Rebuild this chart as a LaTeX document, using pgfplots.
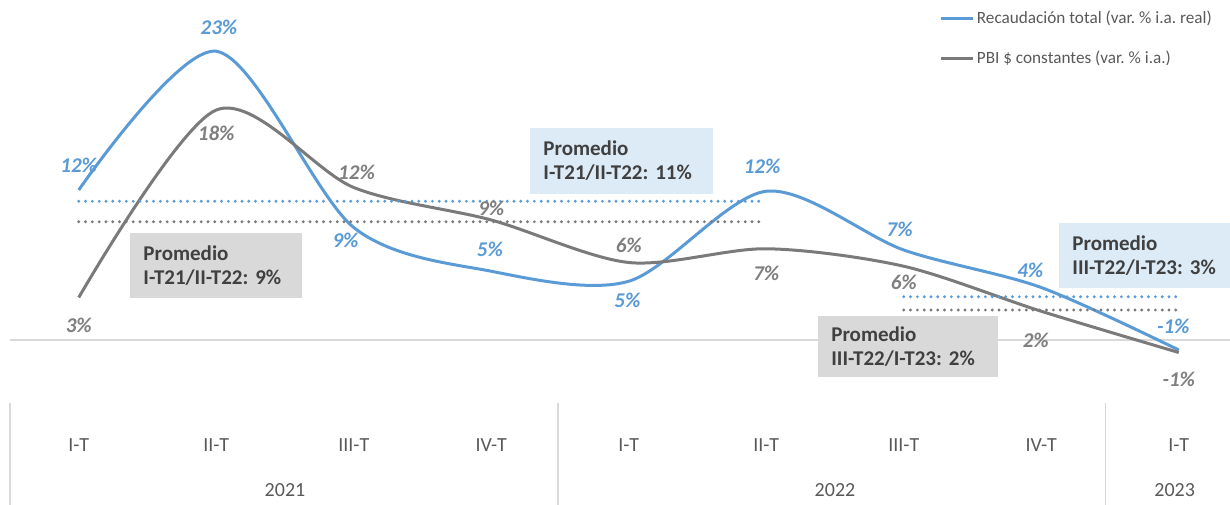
\documentclass[border=0pt]{standalone}
\usepackage{pgfplots}
\pgfplotsset{compat=1.18}
\usepackage{fontspec}
\setmainfont{Carlito}
\frenchspacing
\definecolor{blueC}{RGB}{91,155,213}
\definecolor{grayC}{RGB}{122,122,122}
\definecolor{grayT}{RGB}{127,127,127}
\definecolor{boxB}{RGB}{221,235,247}
\definecolor{boxG}{RGB}{217,217,217}
\definecolor{boxT}{RGB}{64,64,64}
\definecolor{tickC}{RGB}{89,89,89}
\definecolor{lineC}{RGB}{217,217,217}
\begin{document}
\begin{tikzpicture}
\useasboundingbox (-5pt,-50.75pt) rectangle (610pt,201.25pt);
\begin{axis}[
  at={(0pt,0pt)}, anchor=south west,
  scale only axis, width=610pt, height=200pt,
  xmin=-0.5, xmax=8.3727, ymin=-5, ymax=27,
  clip=false,
  axis line style={draw=none},
  major tick length=0pt,
  ytick=\empty,
  xtick={0,1,2,3,4,5,6,7,8},
  xticklabels={I-T,II-T,III-T,IV-T,I-T,II-T,III-T,IV-T,I-T},
  xticklabel style={anchor=center, yshift=-21.25pt, font=\fontsize{10}{12}\selectfont, text=tickC},
  legend style={at={(axis cs:6.26,26.5)}, anchor=north west, draw=none, fill=none,
     font=\fontsize{8.6}{10}\selectfont, text=tickC, row sep=10pt, inner sep=0pt,
     nodes={inner sep=1pt}},
  legend cell align=left,
  legend image code/.code={\draw[#1] (0pt,0pt) -- (16pt,0pt);},
]
% zero line and dividers
\draw[lineC, line width=0.6pt] (axis cs:-0.5,0) -- (axis cs:8.3727,0);
\draw[lineC, line width=0.6pt] (axis cs:-0.5,-5) -- ([yshift=-52pt]axis cs:-0.5,-5);
\draw[lineC, line width=0.6pt] (axis cs:3.485,-5) -- ([yshift=-52pt]axis cs:3.485,-5);
\draw[lineC, line width=0.6pt] (axis cs:7.47,-5) -- ([yshift=-52pt]axis cs:7.47,-5);

\addplot[blueC, line width=1.5pt, smooth, tension=0.5] coordinates {
 (0,12.0) (1,23.1) (2,9.0) (3,5.5) (4,4.7) (5,11.9) (6,7.2) (7,4.2) (8,-0.8)};
\addlegendentry{Recaudación total (var. \% i.a. real)}
\addplot[grayC, line width=1.5pt, smooth, tension=0.5] coordinates {
 (0,3.4) (1,18.4) (2,12.2) (3,9.6) (4,6.2) (5,7.3) (6,5.9) (7,2.3) (8,-1.0)};
\addlegendentry{PBI \$ constantes (var. \% i.a.)}

% averages
\addplot[blueC, line width=1.6pt, line cap=round, dash pattern=on 0pt off 3.4pt, forget plot] coordinates {(0,11.1) (4.95,11.1)};
\addplot[grayC, line width=1.6pt, line cap=round, dash pattern=on 0pt off 3.4pt, forget plot] coordinates {(0,9.46) (4.95,9.46)};
\addplot[blueC, line width=1.6pt, line cap=round, dash pattern=on 0pt off 3.4pt, forget plot] coordinates {(6,3.46) (8,3.46)};
\addplot[grayC, line width=1.6pt, line cap=round, dash pattern=on 0pt off 3.4pt, forget plot] coordinates {(6,2.4) (8,2.4)};

% data labels
\begin{scope}[every node/.style={font=\bfseries\itshape\fontsize{10.5}{12}\selectfont}]
\node[text=blueC] at (axis cs:0,14.0) {12\%};
\node[text=blueC] at (axis cs:1.02,25.04) {23\%};
\node[text=blueC] at (axis cs:1.94,8.0) {9\%};
\node[text=blueC] at (axis cs:2.99,7.28) {5\%};
\node[text=blueC] at (axis cs:3.99,3.2) {5\%};
\node[text=blueC] at (axis cs:4.97,13.92) {12\%};
\node[text=blueC] at (axis cs:5.97,8.88) {7\%};
\node[text=blueC] at (axis cs:6.92,5.6) {4\%};
\node[text=blueC] at (axis cs:7.96,1.12) {-1\%};
\node[text=grayT] at (axis cs:0,1.2) {3\%};
\node[text=grayT] at (axis cs:1.0,16.56) {18\%};
\node[text=grayT] at (axis cs:2.02,13.44) {12\%};
\node[text=grayT] at (axis cs:3.0,10.56) {9\%};
\node[text=grayT] at (axis cs:4.0,7.6) {6\%};
\node[text=grayT] at (axis cs:5.0,5.36) {7\%};
\node[text=grayT] at (axis cs:6.0,4.64) {6\%};
\node[text=grayT] at (axis cs:6.96,0.0) {2\%};
\node[text=grayT] at (axis cs:8.0,-3.12) {-1\%};
\end{scope}

% average boxes
\begin{scope}[every node/.style={font=\bfseries\fontsize{10.5}{12}\selectfont, text=boxT, align=left, inner xsep=6.5pt, inner ysep=0pt, anchor=west}]
\node[fill=boxB, minimum width=91.5pt, minimum height=33pt, text width=78.5pt] at (axis cs:3.282,14.32) {Promedio\\\mbox{I-T21/II-T22: 11\%}};
\node[fill=boxG, minimum width=86pt, minimum height=32.5pt, text width=73pt] at (axis cs:0.373,5.96) {Promedio\\\mbox{I-T21/II-T22: 9\%}};
\node[fill=boxB, minimum width=85.5pt, minimum height=32.5pt, text width=72.5pt] at (axis cs:7.129,6.76) {Promedio\\\mbox{III-T22/I-T23: 3\%}};
\node[fill=boxG, minimum width=90pt, minimum height=30.5pt, text width=77pt] at (axis cs:5.376,-0.52) {Promedio\\\mbox{III-T22/I-T23: 2\%}};
\end{scope}

% years
\begin{scope}[every node/.style={font=\fontsize{10}{12}\selectfont, text=tickC, anchor=center}]
\node at (axis cs:1.5,-5) [yshift=-44pt] {2021};
\node at (axis cs:5.5,-5) [yshift=-44pt] {2022};
\node at (axis cs:7.97,-5) [yshift=-44pt] {2023};
\end{scope}
\end{axis}
\end{tikzpicture}
\end{document}
